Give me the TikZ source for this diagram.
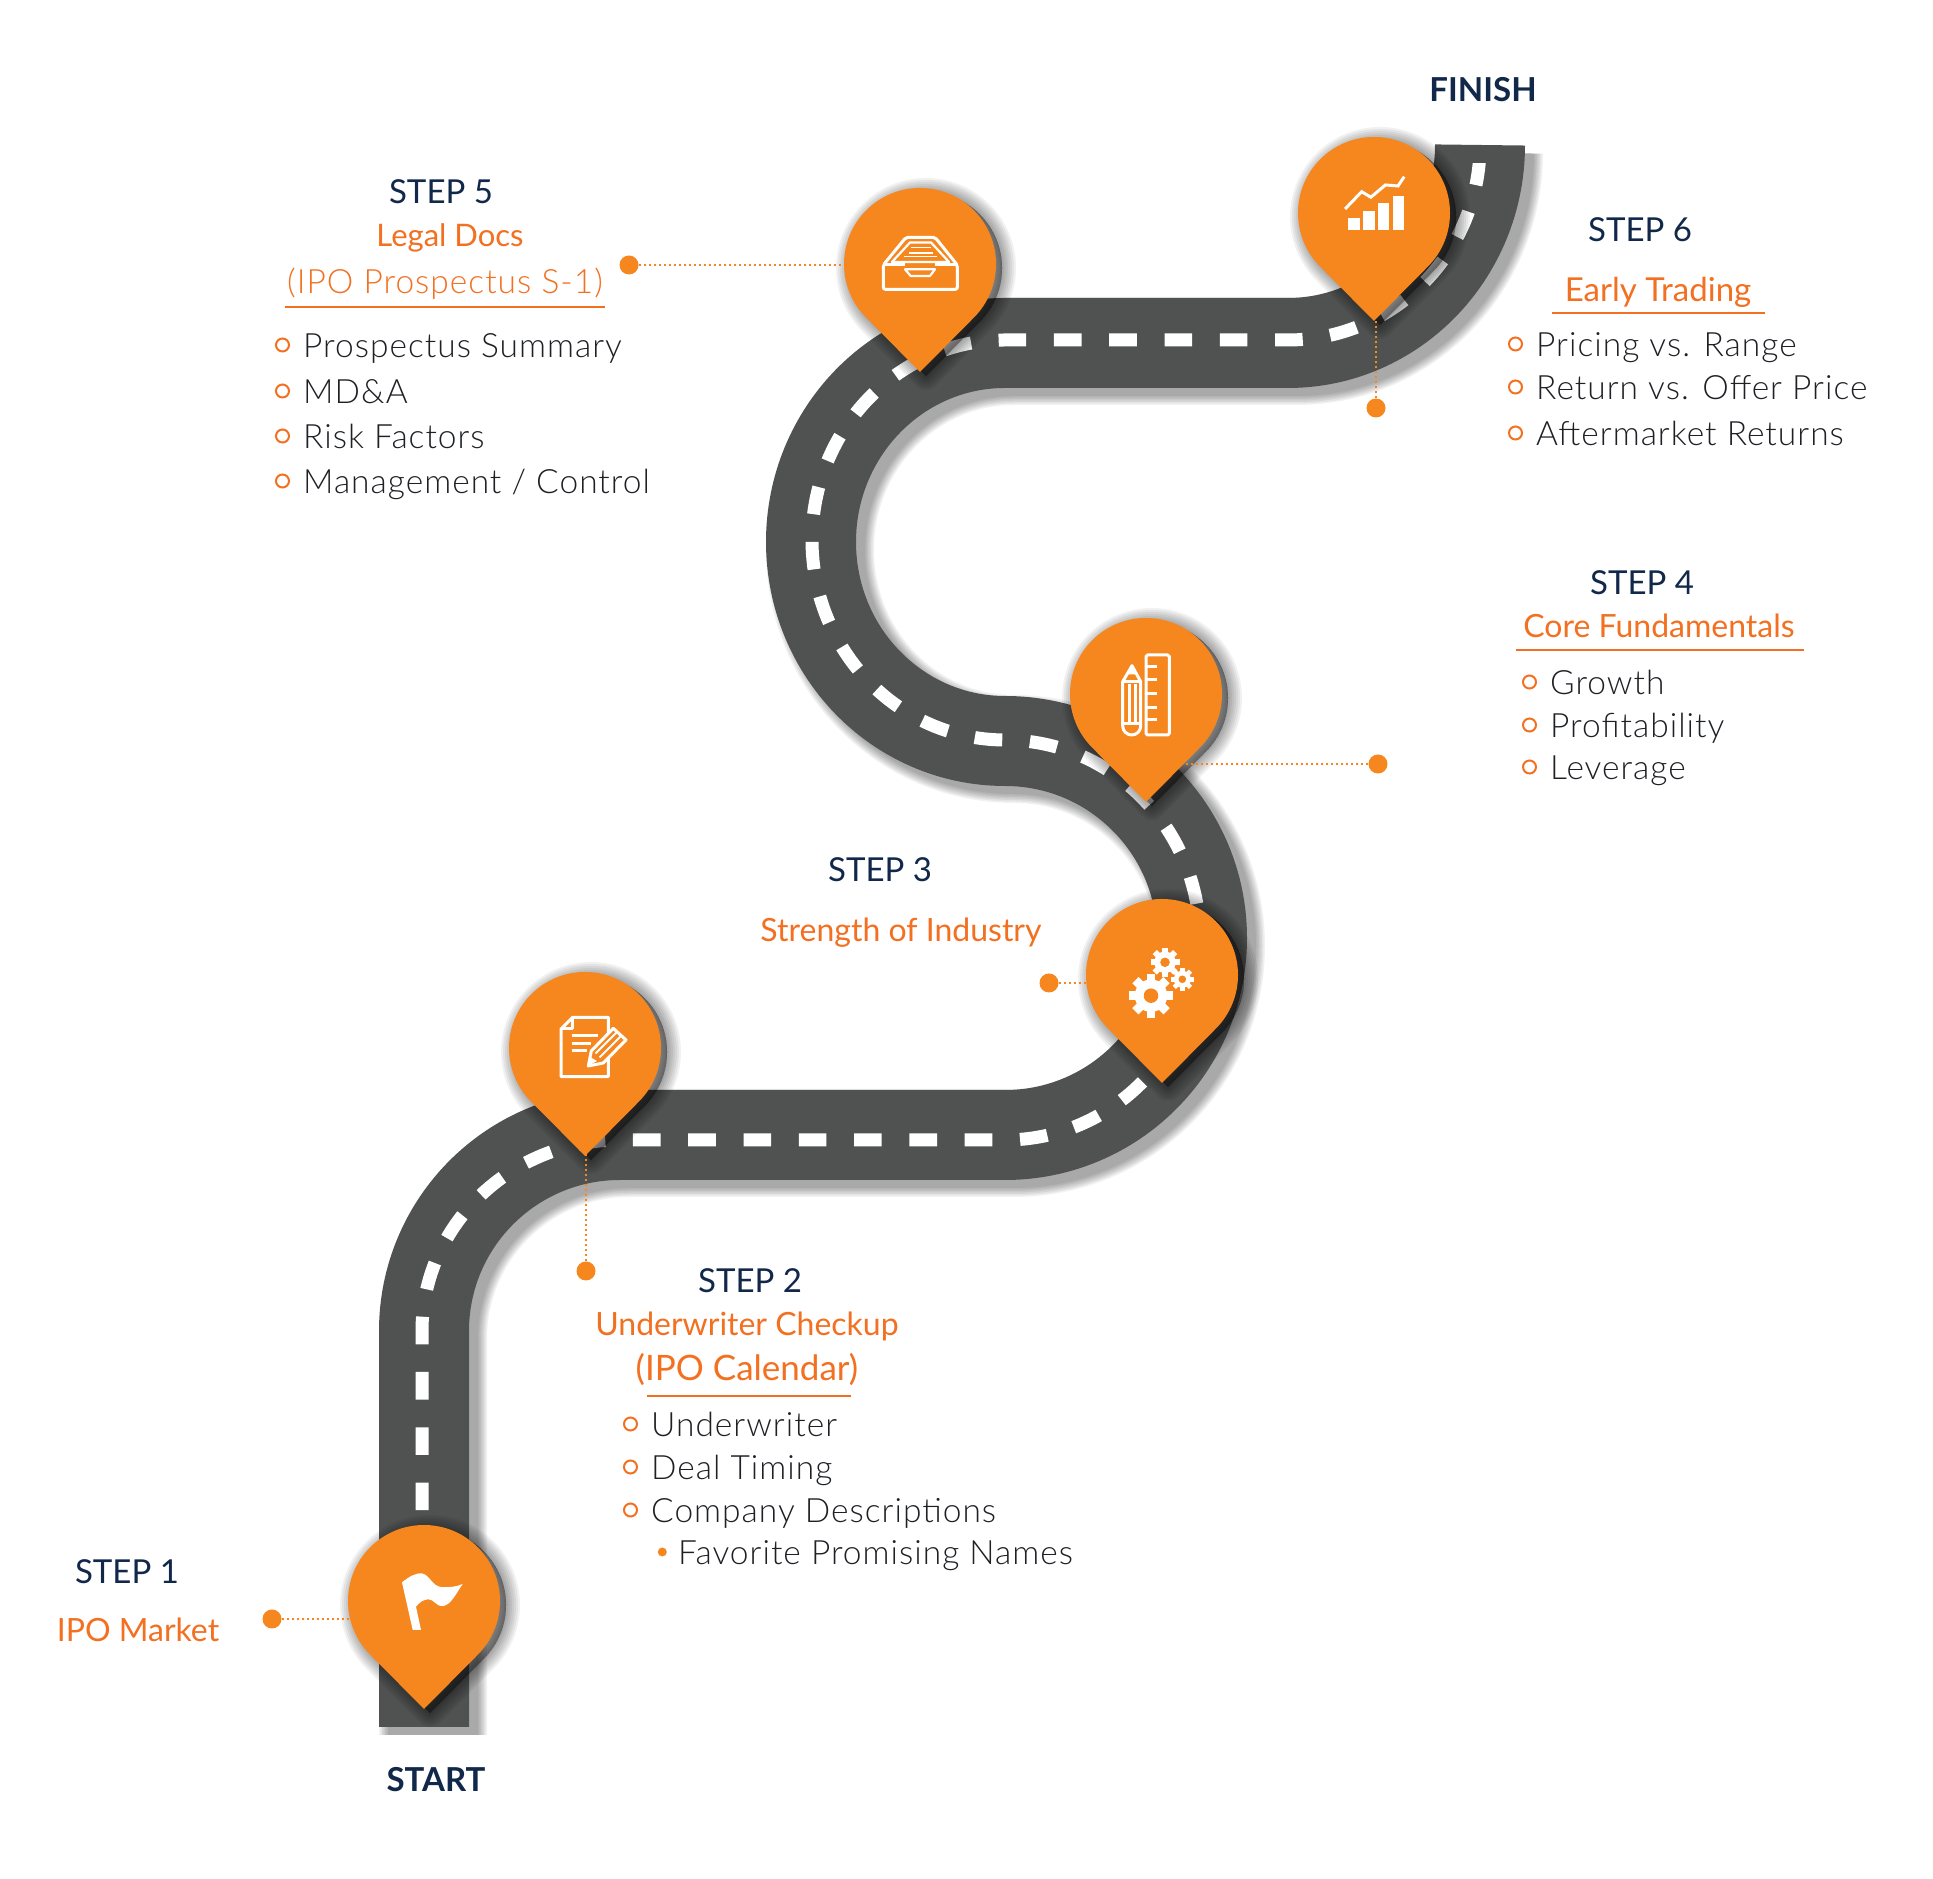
\documentclass[tikz,border=0pt]{standalone}
\usepackage{fontspec}
\setmainfont{Lato}
\newfontfamily\listfont[LetterSpace=3]{Lato Light}
\usetikzlibrary{
  positioning,
  calc
}
\definecolor{pinorange}{RGB}{246,135,31}
\definecolor{textorange}{RGB}{243,112,33}
\definecolor{navy}{RGB}{18,40,75}
\definecolor{roadgray}{RGB}{80,82,81}
\definecolor{darkgray}{RGB}{30,32,36}
\newcommand{\roadpath}{(424,152) -- (424,548) arc[start angle=180,end angle=90,radius=196] -- (1005,744) arc[start angle=-90,end angle=90,radius=197] arc[start angle=-90,end angle=-270,x radius=194,y radius=199] -- (1288,1536) arc[start angle=-90,end angle=0,x radius=192,y radius=198]}
\newcommand{\dashpath}{(422,200) -- (422,548) arc[start angle=180,end angle=90,x radius=198,y radius=191] -- (1005,739) arc[start angle=-90,end angle=90,x radius=195,y radius=200] arc[start angle=-90,end angle=-270,x radius=193,y radius=200] -- (1288,1539) arc[start angle=-90,end angle=0,x radius=192,y radius=195]}
\tikzset{
  pinhead/.pic={\path[pic actions] (-45:76) arc[start angle=-45,end angle=225,radius=76] -- (0,-108) -- cycle;},
  gearwheel/.pic={
    \fill[white] (0,0) circle (0.74);
    \foreach \a in {0,45,...,315} \fill[white,rotate=\a] (0.6,-0.2) rectangle (1,0.2);
    \fill[pinorange] (0,0) circle (0.33);
  }
}
\begin{document}
\begin{tikzpicture}[x=1pt, y=1pt,
            steptitle/.style={font=\fontsize{33}{38}\selectfont, text=navy, inner sep=0pt, text height=29pt, text depth=3pt},
            endtitle/.style={steptitle, font=\fontsize{33}{38}\selectfont\bfseries},
            stepname/.style={font=\fontsize{32}{38}\selectfont, text=textorange, inner sep=0pt, text height=29pt, text depth=3pt},
            stepwide/.style={stepname, font=\fontsize{33.5}{38}\listfont},
            listitem/.style={font=\fontsize{33.5}{38}\listfont, text=darkgray, anchor=west, inner sep=0pt, text height=29pt, text depth=3pt},
            listbullet/.style={circle, draw=textorange, line width=2pt, minimum size=13pt, inner sep=0pt},
            subbullet/.style={circle, fill=pinorange, minimum size=9pt, inner sep=0pt},
            dotmark/.style={circle, fill=pinorange, minimum size=19pt, inner sep=0pt},
            leader/.style={draw=pinorange, line width=2.5pt, dash pattern=on 2.5pt off 2.5pt},
            titlerule/.style={draw=textorange, line width=1.6pt},
            iconline/.style={draw=white, line width=3pt, line join=round, fill=none}]
  \useasboundingbox (0,0) rectangle (1933,1879);
  \fill[white] (0,0) rectangle (1933,1879);

  \foreach \w in {108,105,102,99,96,93,90}
    \draw[black, opacity=0.055, line width=\w pt, shift={(9,-8)}] \roadpath;
  \draw[roadgray, line width=90pt] \roadpath;
  \begin{scope}
    \clip (0,0) rectangle (1933,1715);
    \draw[white, line width=13pt, dash pattern=on 27.6pt off 27.7pt, dash phase=52.4pt] \dashpath;
  \end{scope}

  \coordinate (pin1) at (424,278);
  \coordinate (pin2) at (585,831);
  \coordinate (pin3) at (1162,904);
  \coordinate (pin4) at (1146,1185);
  \coordinate (pin5) at (920,1615);
  \coordinate (pin6) at (1374,1666);

  \foreach \p in {pin1,pin2,pin3,pin4,pin5,pin6}
    \foreach \w in {28,24,20,16,12,8,4,0}
      \pic[fill=black, draw=black, line join=round, line width=\w pt, opacity=0.055] at ($(\p)+(6,-4)$) {pinhead};

  \node[dotmark] (dot1) at (272,260) {};
  \node[dotmark] (dot2) at (586,608) {};
  \node[dotmark] (dot3) at (1049,896) {};
  \node[dotmark] (dot4) at (1378,1115) {};
  \node[dotmark] (dot5) at (629,1614) {};
  \node[dotmark] (dot6) at (1376,1471) {};
  \draw[leader] (dot1) -- (dot1 -| pin1);
  \draw[leader] (dot2) -- (dot2 |- pin2);
  \draw[leader] (dot3) -- (dot3 -| pin3);
  \draw[leader] (dot4) -- (dot4 -| pin4);
  \draw[leader] (dot5) -- (dot5 -| pin5);
  \draw[leader] (dot6) -- (dot6 |- pin6);

  \foreach \p in {pin1,pin2,pin3,pin4,pin5,pin6}
    \pic[fill=pinorange] at (\p) {pinhead};

  \begin{scope}[shift={(pin1)}]
    \fill[white] (-22,18.7) .. controls (-14,25) and (-8,28) .. (-2.3,27.7) .. controls (6,26) and (8,15) .. (17,14) .. controls (25,13.5) and (32,14) .. (38.7,17) .. controls (33,9) and (27,-4) .. (19.3,-5) .. controls (12,-6) and (10,2) .. (4.3,1.7) .. controls (-1,1.5) and (-5,-2) .. (-8,-5.7) -- (-3,-29) -- (-11.3,-29) -- cycle;
  \end{scope}

  \begin{scope}[shift={(pin2)}]
    \draw[iconline] (-12.3,30.7) -- (23.3,30.7) -- (23.3,-28.7) -- (-24,-28.7) -- (-24,19) -- cycle;
    \draw[iconline] (-12.3,30.7) -- (-12.3,19) -- (-24,19);
    \draw[iconline] (-13.3,12) -- (13.3,12) (-13.3,4.7) -- (6,4.7) (-13.3,-3) -- (2,-3);
    \filldraw[draw=white, fill=pinorange, line width=3pt, line join=round] (3.3,-18) -- (6.3,-3) -- (28.3,19.7) -- (41,8) -- (18.3,-15) -- cycle;
    \fill[white] (3.3,-18) -- (5,-9) -- (12,-13) -- cycle;
    \draw[draw=white, line width=1.8pt] (10.5,-5.5) -- (31.5,15.5) (14.5,-9.5) -- (35.5,11.5);
  \end{scope}

  \begin{scope}[shift={(pin3)}]
    \pic[scale=22] at (-11,-20.7) {gearwheel};
    \pic[scale=14.5] at (3,12.7) {gearwheel};
    \pic[scale=11.5] at (20.3,-4.3) {gearwheel};
  \end{scope}

  \begin{scope}[shift={(pin4)}]
    \draw[iconline, rounded corners=1.5pt] (0,39) rectangle (23.3,-41);
    \foreach \y in {27.3,14,0,-13.3,-26} \draw[iconline] (0,\y) -- (11,\y);
    \draw[iconline] (-14,28.3) -- (-23.3,12.3) -- (-23.3,-32) arc[start angle=180,end angle=360,radius=9] -- (-5.3,12.3) -- cycle;
    \fill[white] (-14,28.3) -- (-19,19.5) -- (-9,19.5) -- cycle;
    \draw[iconline] (-23.3,12.3) -- (-5.3,12.3) (-17,10) -- (-17,-29) (-11,10) -- (-11,-29) (-23.3,-30) -- (-5.3,-30);
  \end{scope}

  \begin{scope}[shift={(pin5)}]
    \draw[iconline, rounded corners=2pt] (-36.7,-1) -- (-14,26.7) -- (15,26.7) -- (37.3,-1) -- (37.3,-25.3) -- (-36.7,-25.3) -- cycle;
    \draw[iconline] (-36.7,-1) -- (-15,-1) (15,-1) -- (37.3,-1);
    \draw[iconline, line width=2.2pt] (-15,-5.3) -- (15,-5.3) -- (10,-12) -- (-9.3,-12) -- cycle;
    \draw[iconline, line width=2.2pt] (-28,2) -- (-10,21.5) -- (11,21.5) -- (29,2) -- cycle;
    \draw[iconline, line width=1.8pt] (-9,16.5) -- (11,16.5) (-11,11) -- (13,11) (-16,7.5) -- (17,7.5);
  \end{scope}

  \begin{scope}[shift={(pin6)}]
    \fill[white] (-25.7,-16.7) rectangle (-13.6,-5.3);
    \fill[white] (-11.1,-16.7) rectangle (0.6,2);
    \fill[white] (3.5,-16.7) rectangle (15.2,9.7);
    \fill[white] (18.5,-16.7) rectangle (30.2,17);
    \draw[iconline, line width=3pt, line join=miter] (-29,4) -- (-12.3,21.3) -- (-3.2,15.7) -- (11.4,28) -- (24,27) -- (30.2,36.3);
  \end{scope}

  \node[endtitle] (finish) at (1483,1790) {FINISH};
  \node[endtitle] (start) at (436,100) {START};

  \node[steptitle] (title1) at (127,308) {STEP 1};
  \node[stepname] (name1) at (138,250) {IPO Market};

  \node[steptitle] (title2) at (750,599) {STEP 2};
  \node[stepname] (name2) at (747,556) {Underwriter Checkup};
  \node[stepname, font=\fontsize{35}{38}\selectfont] (cal2) at (747,511) {(IPO Calendar)};
  \draw[titlerule] (647,483) -- (851,483);
  \foreach \i/\Y/\txt in {1/455/Underwriter, 2/412/Deal Timing, 3/369/Company Descriptions} {
    \node[listitem] (item2-\i) at (651,\Y) {\txt};
    \node[listbullet, left=13pt of item2-\i] (bul2-\i) {};
  }
  \node[listitem] (item2-4) at (678,327) {Favorite Promising Names};
  \node[subbullet, left=11pt of item2-4] (bul2-4) {};

  \node[steptitle] (title3) at (880,1010) {STEP 3};
  \node[stepname] (name3) at (901,950) {Strength of Industry};

  \node[steptitle] (title4) at (1642,1297) {STEP 4};
  \node[stepname] (name4) at (1659,1254) {Core Fundamentals};
  \draw[titlerule] (1516,1229) -- (1804,1229);
  \foreach \i/\Y/\txt in {1/1197/Growth, 2/1154/Profitability, 3/1112/Leverage} {
    \node[listitem] (item4-\i) at (1550,\Y) {\txt};
    \node[listbullet, left=13pt of item4-\i] (bul4-\i) {};
  }

  \node[steptitle] (title5) at (441,1688) {STEP 5};
  \node[stepname, font=\fontsize{31}{38}\selectfont] (name5) at (450,1645) {Legal Docs};
  \node[stepwide] (doc5) at (445,1598) {(IPO Prospectus S-1)};
  \draw[titlerule] (285,1572) -- (605,1572);
  \foreach \i/\Y/\txt in {1/1534/Prospectus Summary, 2/1488/MD\&A, 3/1443/Risk Factors, 4/1398/{Management / Control}} {
    \node[listitem] (item5-\i) at (303,\Y) {\txt};
    \node[listbullet, left=13pt of item5-\i] (bul5-\i) {};
  }

  \node[steptitle] (title6) at (1640,1650) {STEP 6};
  \node[stepname, font=\fontsize{33}{38}\selectfont] (name6) at (1658,1590) {Early Trading};
  \draw[titlerule] (1552,1566) -- (1765,1566);
  \foreach \i/\Y/\txt in {1/1535/Pricing vs. Range, 2/1492/Return vs. Offer Price, 3/1446/Aftermarket Returns} {
    \node[listitem] (item6-\i) at (1536,\Y) {\txt};
    \node[listbullet, left=13pt of item6-\i] (bul6-\i) {};
  }
\end{tikzpicture}
\end{document}
